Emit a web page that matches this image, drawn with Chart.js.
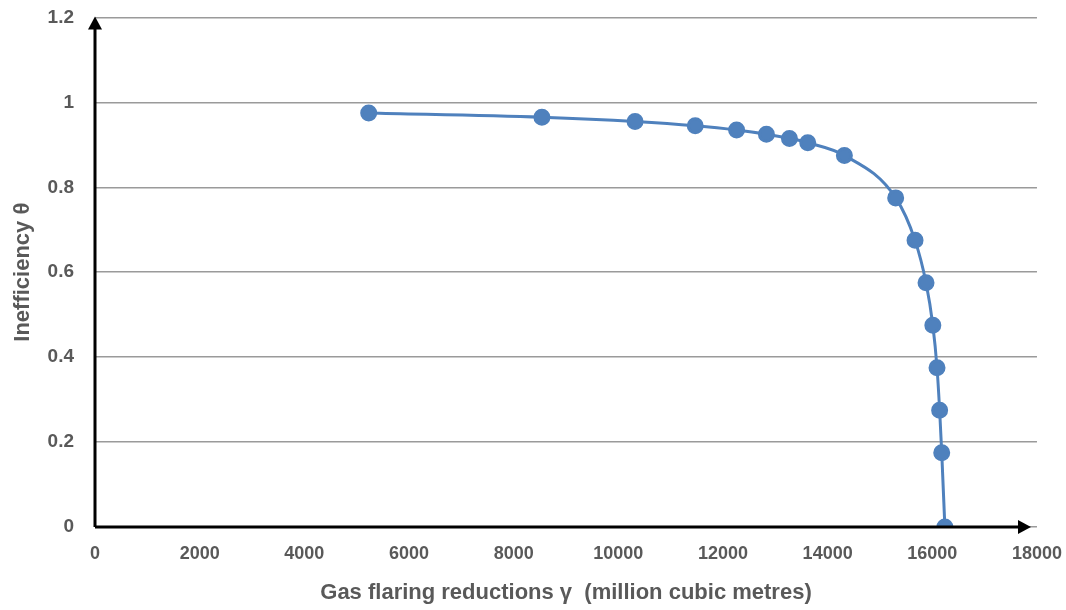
<!DOCTYPE html>
<html>
<head>
<meta charset="utf-8">
<script src="https://cdn.jsdelivr.net/npm/chart.js@4"></script>
<style>
  html, body { margin: 0; padding: 0; background: #fff; }
  #wrap { width: 1066px; height: 610px; }
</style>
</head>
<body>
<div id="wrap"><canvas id="frontier"></canvas></div>
<script>
// gas flaring reductions (million cubic metres) and inefficiency
const reductions = [5230, 8540, 10320, 11470, 12260, 12830, 13270, 13620, 14320, 15300, 15670, 15880, 16010, 16090, 16140, 16180, 16240];
const inefficiency = [0.975, 0.965, 0.955, 0.945, 0.935, 0.925, 0.915, 0.905, 0.875, 0.775, 0.675, 0.575, 0.475, 0.375, 0.275, 0.175, 0];
const xTicks = [0, 2000, 4000, 6000, 8000, 10000, 12000, 14000, 16000, 18000];
const yTicks = [0, 0.2, 0.4, 0.6, 0.8, 1, 1.2];

const grey = '#595959';

// black axes with arrowheads, like the original
const axisArrows = {
  id: 'axisArrows',
  afterDatasetsDraw(chart) {
    const { ctx, chartArea: a } = chart;
    ctx.save();
    ctx.strokeStyle = '#000';
    ctx.fillStyle = '#000';
    ctx.lineWidth = 3;
    ctx.beginPath();
    ctx.moveTo(a.left, a.bottom);
    ctx.lineTo(a.left, a.top + 8);
    ctx.moveTo(a.left, a.bottom);
    ctx.lineTo(a.right - 16, a.bottom);
    ctx.stroke();
    ctx.beginPath();
    ctx.moveTo(a.left, a.top - 1);
    ctx.lineTo(a.left - 7, a.top + 12);
    ctx.lineTo(a.left + 7, a.top + 12);
    ctx.closePath();
    ctx.fill();
    ctx.beginPath();
    ctx.moveTo(a.right - 6, a.bottom);
    ctx.lineTo(a.right - 19, a.bottom - 7);
    ctx.lineTo(a.right - 19, a.bottom + 7);
    ctx.closePath();
    ctx.fill();
    ctx.restore();
  }
};

new Chart(document.getElementById('frontier'), {
  type: 'scatter',
  data: {
    datasets: [{
      data: reductions.map((x, i) => ({ x: x, y: inefficiency[i] })),
      showLine: true,
      borderColor: '#4F81BD',
      backgroundColor: '#4F81BD',
      borderWidth: 3,
      pointRadius: 7,
      pointHoverRadius: 7,
      cubicInterpolationMode: 'monotone'
    }]
  },
  options: {
    responsive: true,
    maintainAspectRatio: false,
    animation: false,
    layout: { autoPadding: false, padding: { top: 0, right: 0, left: 6, bottom: 0 } },
    plugins: { legend: { display: false }, tooltip: { enabled: false } },
    scales: {
      x: {
        type: 'linear',
        min: 0, max: 18000,
        afterBuildTicks: s => { s.ticks = xTicks.map(v => ({ value: v })); },
        afterFit: s => { s.height = 83; },
        grid: { drawOnChartArea: false, drawTicks: true, tickLength: 12, tickColor: 'rgba(0,0,0,0)' },
        border: { display: false },
        ticks: {
          color: grey,
          padding: 4,
          maxRotation: 0,
          callback: v => String(v),
          font: { family: '"Liberation Sans Narrow", "Liberation Sans", sans-serif', size: 18, weight: 'bold' }
        },
        title: {
          display: true,
          text: 'Gas flaring reductions γ  (million cubic metres)',
          color: grey,
          padding: { top: 12 },
          font: { family: '"Liberation Sans", Arial, sans-serif', size: 22, weight: 'bold' }
        }
      },
      y: {
        min: 0, max: 1.2,
        afterBuildTicks: s => { s.ticks = yTicks.map(v => ({ value: v })); },
        afterFit: s => { s.width = 89; },
        grid: { color: '#9a9a9a', lineWidth: 1.5, drawTicks: true, tickLength: 15, tickColor: 'rgba(0,0,0,0)' },
        border: { display: false },
        ticks: {
          color: grey,
          padding: 6,
          callback: v => String(v),
          font: { family: '"Liberation Sans", Arial, sans-serif', size: 19, weight: 'bold' }
        },
        title: {
          display: true,
          text: 'Inefficiency θ',
          color: grey,
          padding: { bottom: 2 },
          font: { family: '"Liberation Sans", Arial, sans-serif', size: 22, weight: 'bold' }
        }
      }
    }
  },
  plugins: [axisArrows]
});
</script>
</body>
</html>
